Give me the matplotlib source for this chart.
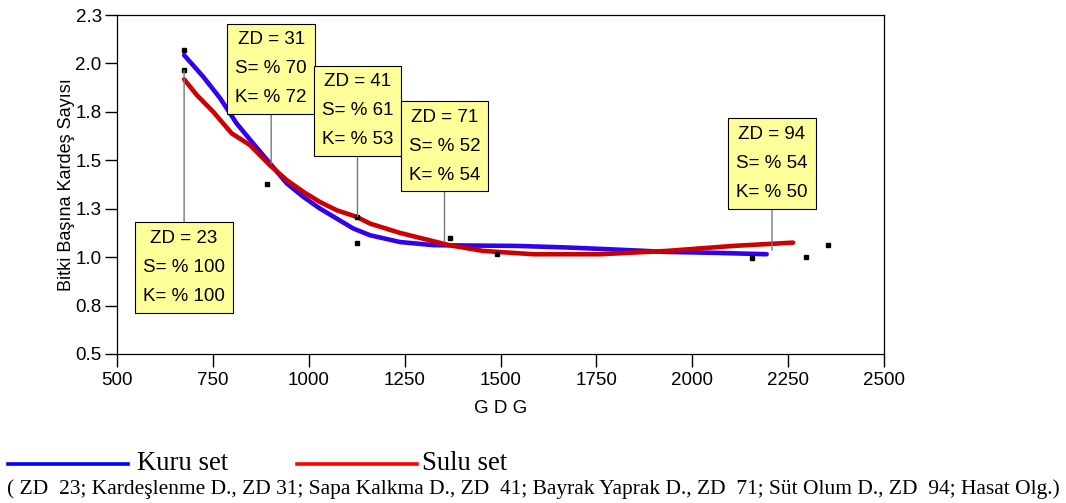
import matplotlib
matplotlib.use('Agg')
import matplotlib.pyplot as plt
from matplotlib.lines import Line2D

# veriler
kuru_x = [675, 725, 769, 812, 855, 899, 943, 986, 1029, 1073, 1116, 1160, 1238, 1325, 1412,
          1542, 1672, 1803, 1933, 2064, 2194]
kuru_y = [2.043, 1.931, 1.820, 1.690, 1.587, 1.484, 1.380, 1.311, 1.251, 1.199, 1.148, 1.113,
          1.078, 1.062, 1.060, 1.058, 1.050, 1.039, 1.027, 1.022, 1.015]

sulu_x = [675, 708, 751, 799, 847, 899, 943, 986, 1029, 1073, 1125, 1160, 1238, 1368, 1455,
          1586, 1760, 1933, 2107, 2263]
sulu_y = [1.918, 1.837, 1.750, 1.639, 1.578, 1.474, 1.397, 1.337, 1.285, 1.242, 1.208, 1.173,
          1.125, 1.061, 1.032, 1.015, 1.015, 1.032, 1.058, 1.075]

nokta_x = [675, 675, 891, 1127, 1127, 1368, 1492, 2155, 2297, 2355]
nokta_y = [2.067, 1.964, 1.379, 1.208, 1.072, 1.098, 1.017, 0.997, 1.000, 1.063]

etiketler = ['ZD = 23\nS= % 100\nK= % 100',
             'ZD = 31\nS= % 70\nK= % 72',
             'ZD = 41\nS= % 61\nK= % 53',
             'ZD = 71\nS= % 52\nK= % 54',
             'ZD = 94\nS= % 54\nK= % 50']
etiket_x = [675, 902, 1127, 1354, 2208]
etiket_hedef_y = [1.964, 1.482, 1.208, 1.083, 1.036]
etiket_kutu_y = [0.945, 1.972, 1.755, 1.573, 1.485]

y_ticks = [0.5, 0.75, 1.0, 1.25, 1.5, 1.75, 2.0, 2.25]
y_ticklabels = ['0.5', '0.8', '1.0', '1.3', '1.5', '1.8', '2.0', '2.3']
x_ticks = [500, 750, 1000, 1250, 1500, 1750, 2000, 2250, 2500]

not_metni = ('( ZD  23; Kardeşlenme D., ZD 31; Sapa Kalkma D., ZD  41; Bayrak Yaprak D., '
             'ZD  71; Süt Olum D., ZD  94; Hasat Olg.)')

plt.rcParams['font.family'] = ['Liberation Sans', 'DejaVu Sans']

W, H = 1066, 503
fig = plt.figure(figsize=(W / 100, H / 100), dpi=100)
ax = fig.add_axes([117 / W, 1 - 354 / H, (884 - 117) / W, (354 - 15) / H])

ax.plot(kuru_x, kuru_y, color='#3300EE', lw=3.3, solid_capstyle='round', zorder=3)
ax.plot(sulu_x, sulu_y, color='#CC0000', lw=3.3, solid_capstyle='round', zorder=4)
ax.plot(nokta_x, nokta_y, 's', color='black', ms=3, zorder=5)

for t, x, yh, yk in zip(etiketler, etiket_x, etiket_hedef_y, etiket_kutu_y):
    ax.annotate(t, xy=(x, yh), xytext=(x, yk), ha='center', va='center',
                fontsize=13.5, linespacing=1.92, zorder=6,
                bbox=dict(boxstyle='square,pad=0.42', fc='#FFFF99', ec='black', lw=0.8),
                arrowprops=dict(arrowstyle='-', color='#777777', lw=1.0,
                                shrinkA=0, shrinkB=0))

ax.set_xlim(500, 2500)
ax.set_ylim(0.5, 2.25)
ax.set_xticks(x_ticks)
ax.set_yticks(y_ticks)
ax.set_yticklabels(y_ticklabels)
ax.tick_params(direction='out', length=9, width=1, labelsize=13.5, pad=2)
ax.tick_params(axis='x', pad=4)
for s in ax.spines.values():
    s.set_linewidth(0.9)

ax.set_xlabel('G D G', fontsize=13.5, labelpad=8)
ax.set_ylabel('Bitki Başına Kardeş Sayısı', fontsize=13)
ax.yaxis.set_label_coords(-0.055, 0.5)

# lejant ve not (şekil altında)
fig.add_artist(Line2D([8 / W, 128 / W], [1 - 464 / H, 1 - 464 / H], color='#0000FF', lw=2.6,
                      transform=fig.transFigure))
fig.add_artist(Line2D([297 / W, 417 / W], [1 - 464 / H, 1 - 464 / H], color='#FF0000', lw=2.6,
                      transform=fig.transFigure))
fig.text(137 / W, 1 - 461 / H, 'Kuru set', fontsize=19.3, family='Liberation Serif', va='center_baseline')
fig.text(422 / W, 1 - 461 / H, 'Sulu set', fontsize=19.3, family='Liberation Serif', va='center_baseline')
fig.text(7 / W, 1 - 487 / H, not_metni, fontsize=15.5, family='Liberation Serif', va='center_baseline')

fig.savefig('out.png', dpi=100)
